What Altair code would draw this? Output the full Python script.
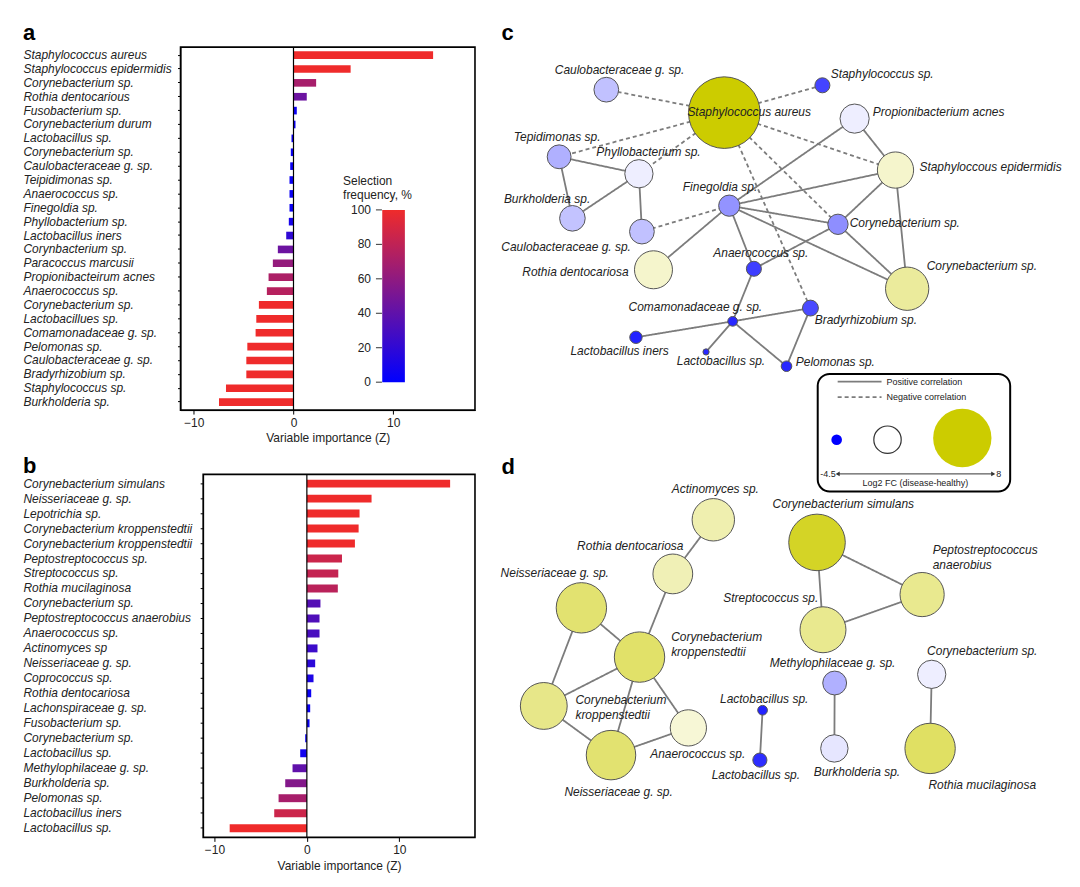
import altair as alt
import pandas as pd

FONT = "Liberation Sans"
INK = "#222222"

# ---------------- Panel a data ----------------
a_taxa = ["Staphylococcus aureus", "Staphylococcus epidermidis", "Corynebacterium sp.",
          "Rothia dentocarious", "Fusobacterium sp.", "Corynebacterium durum",
          "Lactobacillus sp.", "Corynebacterium sp.", "Caulobacteraceae g. sp.",
          "Teipidimonas sp.", "Anaerococcus sp.", "Finegoldia sp.", "Phyllobacterium sp.",
          "Lactobacillus iners", "Corynbacterium sp.", "Paracoccus marcusii",
          "Propionibacteirum acnes", "Anaerococcus sp.", "Corynebacterium sp.",
          "Lactobacillues sp.", "Comamonadaceae g. sp.", "Pelomonas sp.",
          "Caulobacteraceae g. sp.", "Bradyrhizobium sp.", "Staphylococcus sp.",
          "Burkholderia sp."]
a_z = [14.0, 5.73, 2.27, 1.33, 0.33, 0.2, -0.2, -0.27, -0.33, -0.4, -0.4, -0.4, -0.47,
       -0.73, -1.57, -2.07, -2.5, -2.67, -3.47, -3.73, -3.8, -4.63, -4.73, -4.73,
       -6.77, -7.47]
a_freq = [100, 100, 70, 45, 5, 5, 5, 5, 5, 5, 5, 5, 10, 20, 45, 62, 72, 76, 100, 100,
          100, 100, 100, 100, 100, 100]

# ---------------- Panel b data ----------------
b_taxa = ["Corynebacterium simulans", "Neisseriaceae g. sp.", "Lepotrichia sp.",
          "Corynebacterium kroppenstedtii", "Corynebacterium kroppenstedtii",
          "Peptostreptococcus sp.", "Streptococcus sp.", "Rothia mucilaginosa",
          "Corynebacterium sp.", "Peptostreptococcus anaerobius", "Anaerococcus sp.",
          "Actinomyces sp", "Neisseriaceae g. sp.", "Coprococcus sp.",
          "Rothia dentocariosa", "Lachonspiraceae g. sp.", "Fusobacterium sp.",
          "Corynebacterium sp.", "Lactobacillus sp.", "Methylophilaceae g. sp.",
          "Burkholderia sp.", "Pelomonas sp.", "Lactobacillus iners", "Lactobacillus sp."]
b_z = [15.5, 7.0, 5.7, 5.6, 5.2, 3.8, 3.4, 3.35, 1.47, 1.37, 1.37, 1.15, 0.9, 0.72,
       0.47, 0.36, 0.29, -0.18, -0.72, -1.55, -2.34, -3.06, -3.53, -8.35]
b_freq = [100, 100, 100, 100, 100, 85, 82, 78, 35, 33, 30, 25, 18, 12, 5, 5, 5, 5, 8,
          40, 55, 70, 85, 100]

freq_ticks = [0, 20, 40, 60, 80, 100]
freq_title = "Selection\nfrequency, %"
z_ticks = [-10, 0, 10]
z_title = "Variable importance (Z)"

# ---------------- Panel c network ----------------
c_ids = ["saur", "caul1", "stsp", "pacn", "sepi", "tepi", "phyl", "burk", "caul2", "fine",
         "roth", "anae", "cor1", "cor2", "coma", "brad", "lini", "lsp", "pelo"]
c_names = ["Staphylococcus aureus", "Caulobacteraceae g. sp.", "Staphylococcus sp.",
           "Propionibacterium acnes", "Staphyloccous epidermidis", "Tepidimonas sp.",
           "Phyllobacterium sp.", "Burkholderia sp.", "Caulobacteraceae g. sp.",
           "Finegoldia sp.", "Rothia dentocariosa", "Anaerococcus sp.",
           "Corynebacterium sp.", "Corynebacterium sp.", "Comamonadaceae g. sp.",
           "Bradyrhizobium sp.", "Lactobacillus iners", "Lactobacillus sp.", "Pelomonas sp."]
c_x = [724.3, 606.0, 822.7, 855.0, 896.0, 558.7, 638.7, 572.0, 641.7, 729.3,
       653.3, 754.0, 838.3, 907.7, 732.7, 810.7, 635.7, 706.0, 786.7]
c_y = [110.7, 87.7, 83.3, 116.7, 168.3, 155.0, 172.0, 216.7, 230.0, 204.0,
       268.3, 267.3, 222.7, 287.3, 320.0, 306.7, 336.0, 350.7, 365.0]
c_fc = [8.0, -1.1, -3.3, -0.3, 1.6, -1.4, -0.3, -1.05, -1.1, -1.9,
        1.6, -3.4, -2.0, 3.1, -3.8, -3.2, -3.9, -3.8, -3.8]
c_w = [81, 28, 17, 33, 41, 27, 32, 29, 28, 24, 43, 17, 23, 49, 11, 18, 14, 7, 12]
c_lx = [687.3, 554.3, 831.0, 873.3, 920.0, 513.3, 596.0, 503.3, 500.7, 682.7,
        521.7, 713.3, 850.0, 927.3, 628.3, 815.0, 570.0, 676.7, 796.0]
c_ly = [110.0, 68.3, 71.7, 110.0, 165.0, 135.0, 150.0, 197.3, 245.0, 185.7,
        270.7, 251.7, 221.7, 265.0, 306.0, 319.0, 349.3, 360.0, 360.7]
c_pos_edges = [("tepi", "phyl"), ("tepi", "burk"), ("phyl", "burk"), ("phyl", "caul2"),
               ("fine", "roth"), ("fine", "pacn"), ("fine", "sepi"), ("fine", "cor1"),
               ("fine", "cor2"), ("fine", "anae"), ("pacn", "sepi"), ("sepi", "cor1"),
               ("sepi", "cor2"), ("cor1", "cor2"), ("cor1", "anae"), ("anae", "coma"),
               ("coma", "lini"), ("coma", "lsp"), ("coma", "pelo"), ("coma", "brad"),
               ("brad", "pelo")]
c_neg_edges = [("saur", "caul1"), ("saur", "stsp"), ("saur", "tepi"), ("saur", "phyl"),
               ("saur", "sepi"), ("saur", "cor1"), ("saur", "brad"), ("fine", "caul2")]

# ---------------- Panel d network ----------------
d_ids = ["acti", "rotd", "nei1", "kro1", "kro2", "anad", "nei2", "lac1", "lac2", "csim",
         "pept", "strp", "meth", "burd", "cord", "rmuc"]
d_names = ["Actinomyces sp.", "Rothia dentocariosa", "Neisseriaceae g. sp.",
           "Corynebacterium\nkroppenstedtii", "Corynebacterium\nkroppenstedtii",
           "Anaerococcus sp.", "Neisseriaceae g. sp.", "Lactobacillus sp.",
           "Lactobacillus sp.", "Corynebacterium simulans",
           "Peptostreptococcus\nanaerobius", "Streptococcus sp.",
           "Methylophilaceae g. sp.", "Burkholderia sp.", "Corynebacterium sp.",
           "Rothia mucilaginosa"]
d_x = [713.3, 672.7, 581.0, 639.3, 543.3, 688.3, 610.7, 762.7, 760.0, 817.3,
       922.7, 823.3, 835.0, 834.7, 932.3, 930.7]
d_y = [519.0, 573.3, 607.3, 656.7, 705.7, 727.7, 755.0, 710.0, 760.0, 541.7,
       594.0, 629.3, 682.7, 748.3, 674.0, 748.3]
d_fc = [2.5, 2.3, 4.5, 4.7, 3.7, 1.3, 4.5, -3.9, -3.7, 6.8, 3.5, 3.5, -1.4, -0.45,
        -0.3, 4.9]
d_w = [48, 45, 57, 57, 53, 41, 56, 11, 16, 64, 50, 52, 27, 31, 32, 57]
d_lx = [671.7, 576.7, 500.0, 671.0, 575.0, 650.0, 564.0, 720.0, 711.7, 772.7,
        933.3, 723.3, 770.0, 814.0, 927.7, 929.0]
# label anchor = first text line
d_ly = [488.3, 545.0, 572.3, 637.0, 700.0, 754.0, 791.7, 699.0, 775.0, 503.3,
        549.0, 597.3, 662.7, 772.3, 651.0, 785.0]
d_pos_edges = [("acti", "rotd"), ("rotd", "kro1"), ("nei1", "kro1"), ("nei1", "kro2"),
               ("kro1", "kro2"), ("kro1", "nei2"), ("kro1", "anad"), ("kro2", "nei2"),
               ("nei2", "anad"), ("lac1", "lac2"), ("csim", "strp"), ("csim", "pept"),
               ("strp", "pept"), ("meth", "burd"), ("cord", "rmuc")]

# ---------------- network legend (panel c) ----------------
leg_fc = [-4.5, 0.0, 8.0]
leg_w = [12, 31, 66]
leg_cx = [837.0, 888.0, 963.0]
leg_cy = [438.7, 438.7, 437.0]
leg_box = {"x": [818.0], "x2": [1011.0], "y": [372.7], "y2": [490.7]}
leg_lines = {"kind": ["positive", "negative"], "x": [838.0, 838.0], "x2": [882.0, 882.0],
             "y": [380.5, 396.0]}
leg_line_text = ["Positive correlation", "Negative correlation"]
leg_text_x = [887.0, 887.0]
leg_arrow = {"x": [838.0], "x2": [994.0], "y": [473.0]}
leg_ends = ["-4.5", "8"]
leg_title = "Log2 FC (disease-healthy)"
letters = ["c", "d"]
letter_x = [501.0, 501.0]
letter_y = [38.3, 473.0]

# =================================================================
BLUE, RED = "#0000ff", "#ef2b2b"
FREQ_SCALE = alt.Scale(domain=[0, 100], range=[BLUE, RED], interpolate="rgb")
A_ZSCALE = alt.Scale(domain=[-11.33, 18.2], nice=False, zero=False)
# panel b plot frame starts further right; the view starts at the same x as panel a
B_ZSCALE = alt.Scale(domain=[-13.67, 18.19], nice=False, zero=False)
B_FRAME = (-11.22, 18.19)


def uniq(names):
    seen, out = {}, []
    for n in names:
        k = seen.get(n, 0)
        seen[n] = k + 1
        out.append(n + " " * k)
    return out


def freq_legend_layers():
    ly = alt.Scale(domain=[-16.2, 194.5], nice=False, zero=False)
    grad = alt.LinearGradient(gradient="linear", x1=0, x2=0, y1=1, y2=0,
                              stops=[alt.GradientStop(color=BLUE, offset=0),
                                     alt.GradientStop(color=RED, offset=1)])
    bar = alt.Chart(pd.DataFrame({"v": [freq_ticks[0]], "v2": [freq_ticks[-1]]})).mark_rect(
        color=grad).encode(
        x=alt.value(202.3), x2=alt.value(225),
        y=alt.Y("v:Q", scale=ly, axis=None), y2="v2:Q")
    tdf = pd.DataFrame({"v": freq_ticks})
    ticks = alt.Chart(tdf).mark_rule(color="#333333", strokeWidth=1).encode(
        x=alt.value(196), x2=alt.value(202), y=alt.Y("v:Q", scale=ly, axis=None))
    labs = alt.Chart(tdf).mark_text(align="right", baseline="middle", fontSize=12,
                                    font=FONT, color=INK).encode(
        x=alt.value(191), y=alt.Y("v:Q", scale=ly, axis=None), text="v:Q")
    ttl = alt.Chart(pd.DataFrame({"t": [freq_title]})).mark_text(
        align="left", baseline="middle", fontSize=12, font=FONT, color=INK,
        lineBreak="\n", lineHeight=14).encode(
        x=alt.value(163), y=alt.value(134.3), text="t:N")
    return [bar, ticks, labs, ttl]


def bar_panel(taxa, z, freq, letter, letter_dy, zscale, frame, width, axis_shift,
              label_pad, pad_inner, pad_outer, with_legend):
    keys = uniq(taxa)
    df = pd.DataFrame({"key": keys, "z": z, "freq": freq, "base": [0.0] * len(z)})
    yscale = alt.Scale(paddingInner=pad_inner, paddingOuter=pad_outer)
    xaxis = dict(values=z_ticks, title=z_title, tickSize=4, labelFontSize=12,
                 titleFontSize=12, titleFontWeight="normal", grid=False, labelColor=INK,
                 titleColor=INK, domainColor="black", tickColor="black", labelPadding=3,
                 titlePadding=5, labelFont=FONT, titleFont=FONT)
    if frame is not None:
        xaxis.update(domain=False, titleX=(width - axis_shift) / 2 + axis_shift,
                     titleAlign="center", titleAnchor="start")
    yaxis = dict(title=None, labelAlign="left", labelPadding=label_pad, tickSize=3,
                 labelFontStyle="italic", labelFontSize=12, labelLimit=400,
                 labelColor=INK, domainColor="black", tickColor="black", labelFont=FONT,
                 grid=False)
    if axis_shift:
        yaxis.update(offset=-axis_shift)
    bars = alt.Chart(df).mark_bar().encode(
        x=alt.X("z:Q", scale=zscale, axis=alt.Axis(**xaxis)),
        x2="base:Q",
        y=alt.Y("key:N", sort=keys, scale=yscale, axis=alt.Axis(**yaxis)),
        color=alt.Color("freq:Q", scale=FREQ_SCALE, legend=None),
    )
    zero = alt.Chart(pd.DataFrame({"z": [0.0]})).mark_rule(
        color="black", strokeWidth=1.2).encode(x=alt.X("z:Q", scale=zscale))
    let = alt.Chart(pd.DataFrame({"t": [letter], "key": [keys[0]]})).mark_text(
        align="left", baseline="alphabetic", fontSize=22, fontWeight="bold", font=FONT,
        color="black", dy=letter_dy).encode(
        x=alt.value(-158), y=alt.Y("key:N", sort=keys, scale=yscale), text="t:N")
    inner = [bars, zero]
    if frame is not None:
        fr = alt.Chart(pd.DataFrame({"a": [frame[0]], "b": [frame[1]]})).mark_rect(
            fillOpacity=0, stroke="black", strokeWidth=1.6).encode(
            x=alt.X("a:Q", scale=zscale), x2="b:Q", y=alt.value(0), y2=alt.value(364))
        inner.append(fr)
    inner.append(let)
    core = alt.layer(*inner)
    view = alt.ViewBackground(stroke="black", strokeWidth=1.6) if frame is None else \
        alt.ViewBackground(stroke=None)
    if with_legend:
        out = alt.layer(core, *freq_legend_layers()).resolve_scale(y="independent")
    else:
        out = core
    return out.properties(width=width, height=364, view=view)


panel_a = bar_panel(a_taxa, a_z, a_freq, "a", -15.6, A_ZSCALE, None, 295.3, 0, 155,
                    0.45, 0.3, True)
panel_b = bar_panel(b_taxa, b_z, b_freq, "b", -11, B_ZSCALE, B_FRAME, 295.3, 22.7, 177.7,
                    0.47, 0.35, False)

# ---------------- network chart ----------------
nodes = pd.concat([
    pd.DataFrame({"id": c_ids, "name": c_names, "x": c_x, "y": c_y, "fc": c_fc, "w": c_w,
                  "lx": c_lx, "ly": c_ly}),
    pd.DataFrame({"id": d_ids, "name": d_names, "x": d_x, "y": d_y, "fc": d_fc, "w": d_w,
                  "lx": d_lx, "ly": d_ly}),
], ignore_index=True)
pos_c = dict(zip(c_ids, zip(c_x, c_y)))
pos_d = dict(zip(d_ids, zip(d_x, d_y)))
erows = []
for a, b in c_pos_edges:
    erows.append((pos_c[a], pos_c[b], "positive"))
for a, b in c_neg_edges:
    erows.append((pos_c[a], pos_c[b], "negative"))
for a, b in d_pos_edges:
    erows.append((pos_d[a], pos_d[b], "positive"))
edges = pd.DataFrame({"x": [r[0][0] for r in erows], "y": [r[0][1] for r in erows],
                      "x2": [r[1][0] for r in erows], "y2": [r[1][1] for r in erows],
                      "kind": [r[2] for r in erows]})

NX = alt.Scale(domain=[490, 1068], nice=False, zero=False)
NY = alt.Scale(domain=[45, 865], nice=False, zero=False, reverse=True)
DASH = alt.Scale(domain=["positive", "negative"], range=[[1, 0], [4, 3]])
FILL = alt.Scale(domain=[-4.5, 0, 8], range=["#0000ff", "#ffffff", "#cccc00"],
                 interpolate="rgb")
SIZE = alt.Scale(type="pow", exponent=2, domain=[0, 100], range=[0, 7854])


def X(f):
    return alt.X(f, scale=NX, axis=None)


def Y(f):
    return alt.Y(f, scale=NY, axis=None)


edge_layer = alt.Chart(edges).mark_rule(strokeWidth=1.8, color="#7c7c7c").encode(
    x=X("x:Q"), y=Y("y:Q"), x2="x2:Q", y2="y2:Q",
    strokeDash=alt.StrokeDash("kind:N", scale=DASH, legend=None))
node_layer = alt.Chart(nodes).mark_circle(opacity=1, stroke="#555555",
                                          strokeWidth=1).encode(
    x=X("x:Q"), y=Y("y:Q"),
    size=alt.Size("w:Q", scale=SIZE, legend=None),
    fill=alt.Fill("fc:Q", scale=FILL, legend=None))
label_layer = alt.Chart(nodes).mark_text(
    align="left", baseline="middle", fontStyle="italic", fontSize=12, font=FONT,
    lineBreak="\n", lineHeight=15, color=INK).encode(
    x=X("lx:Q"), y=Y("ly:Q"), text="name:N")

box_layer = alt.Chart(pd.DataFrame(leg_box)).mark_rect(
    fillOpacity=0, stroke="black", strokeWidth=2, cornerRadius=12).encode(
    x=X("x:Q"), x2="x2:Q", y=Y("y:Q"), y2="y2:Q")
leg_line_df = pd.DataFrame(leg_lines)
leg_line_df["text"] = leg_line_text
leg_line_df["tx"] = leg_text_x
leg_line_layer = alt.Chart(leg_line_df).mark_rule(strokeWidth=1.8, color="#7c7c7c").encode(
    x=X("x:Q"), x2="x2:Q", y=Y("y:Q"),
    strokeDash=alt.StrokeDash("kind:N", scale=DASH, legend=None))
leg_line_text_layer = alt.Chart(leg_line_df).mark_text(
    align="left", baseline="middle", fontSize=9, font=FONT, color=INK).encode(
    x=X("tx:Q"), y=Y("y:Q"), text="text:N")
leg_circ_df = pd.DataFrame({"x": leg_cx, "y": leg_cy, "fc": leg_fc, "w": leg_w})
leg_circ_white = alt.Chart(leg_circ_df[leg_circ_df.fc == 0]).mark_circle(
    opacity=1, strokeWidth=1.2, stroke="#333333").encode(
    x=X("x:Q"), y=Y("y:Q"),
    size=alt.Size("w:Q", scale=SIZE, legend=None),
    fill=alt.Fill("fc:Q", scale=FILL, legend=None))
leg_circ_other = alt.Chart(leg_circ_df[leg_circ_df.fc != 0]).mark_circle(
    opacity=1, strokeWidth=0).encode(
    x=X("x:Q"), y=Y("y:Q"),
    size=alt.Size("w:Q", scale=SIZE, legend=None),
    fill=alt.Fill("fc:Q", scale=FILL, legend=None))
arrow_df = pd.DataFrame(leg_arrow)
arrow_layer = alt.Chart(arrow_df).mark_rule(strokeWidth=1, color="#333333").encode(
    x=X("x:Q"), x2="x2:Q", y=Y("y:Q"))
heads_df = pd.DataFrame({"x": [leg_arrow["x"][0], leg_arrow["x2"][0]],
                         "y": [leg_arrow["y"][0]] * 2,
                         "shape": ["triangle-left", "triangle-right"]})
heads_layer = alt.Chart(heads_df).mark_point(filled=True, size=22, color="#333333",
                                             opacity=1).encode(
    x=X("x:Q"), y=Y("y:Q"),
    shape=alt.Shape("shape:N", scale=alt.Scale(domain=["triangle-left", "triangle-right"],
                                                range=["triangle-left", "triangle-right"]),
                    legend=None))
ends_df = pd.DataFrame({"x": [leg_arrow["x"][0] - 2, leg_arrow["x2"][0] + 3],
                        "y": [leg_arrow["y"][0]] * 2, "t": leg_ends})
ends_left = alt.Chart(ends_df.iloc[[0]]).mark_text(
    align="right", baseline="middle", fontSize=9, font=FONT, color=INK).encode(
    x=X("x:Q"), y=Y("y:Q"), text="t:N")
ends_right = alt.Chart(ends_df.iloc[[1]]).mark_text(
    align="left", baseline="middle", fontSize=9, font=FONT, color=INK).encode(
    x=X("x:Q"), y=Y("y:Q"), text="t:N")
leg_title_layer = alt.Chart(pd.DataFrame({
    "x": [(leg_arrow["x"][0] + leg_arrow["x2"][0]) / 2], "y": [482.0],
    "t": [leg_title]})).mark_text(
    align="center", baseline="middle", fontSize=9, font=FONT, color=INK).encode(
    x=X("x:Q"), y=Y("y:Q"), text="t:N")
letter_layer = alt.Chart(pd.DataFrame({"x": letter_x, "y": letter_y, "t": letters})).mark_text(
    align="left", baseline="alphabetic", fontSize=22, fontWeight="bold", font=FONT,
    color="black").encode(x=X("x:Q"), y=Y("y:Q"), text="t:N")

network = alt.layer(
    edge_layer, node_layer, label_layer, box_layer, leg_line_layer, leg_line_text_layer,
    leg_circ_white, leg_circ_other, arrow_layer, heads_layer, ends_left, ends_right,
    leg_title_layer, letter_layer,
).properties(width=578, height=820, view=alt.ViewBackground(stroke=None))

left = alt.vconcat(panel_a, panel_b, spacing=9.5).resolve_scale(
    color="independent", x="independent", y="independent")
chart = alt.hconcat(left, network, spacing=14).resolve_scale(
    x="independent", y="independent", size="independent", fill="independent",
    strokeDash="independent").properties(
    padding={"left": 14, "top": 11, "right": 5, "bottom": 0}
).configure(font=FONT).configure_view(stroke=None)

chart.save("out.html", embed_options={"renderer": "svg", "actions": False})
